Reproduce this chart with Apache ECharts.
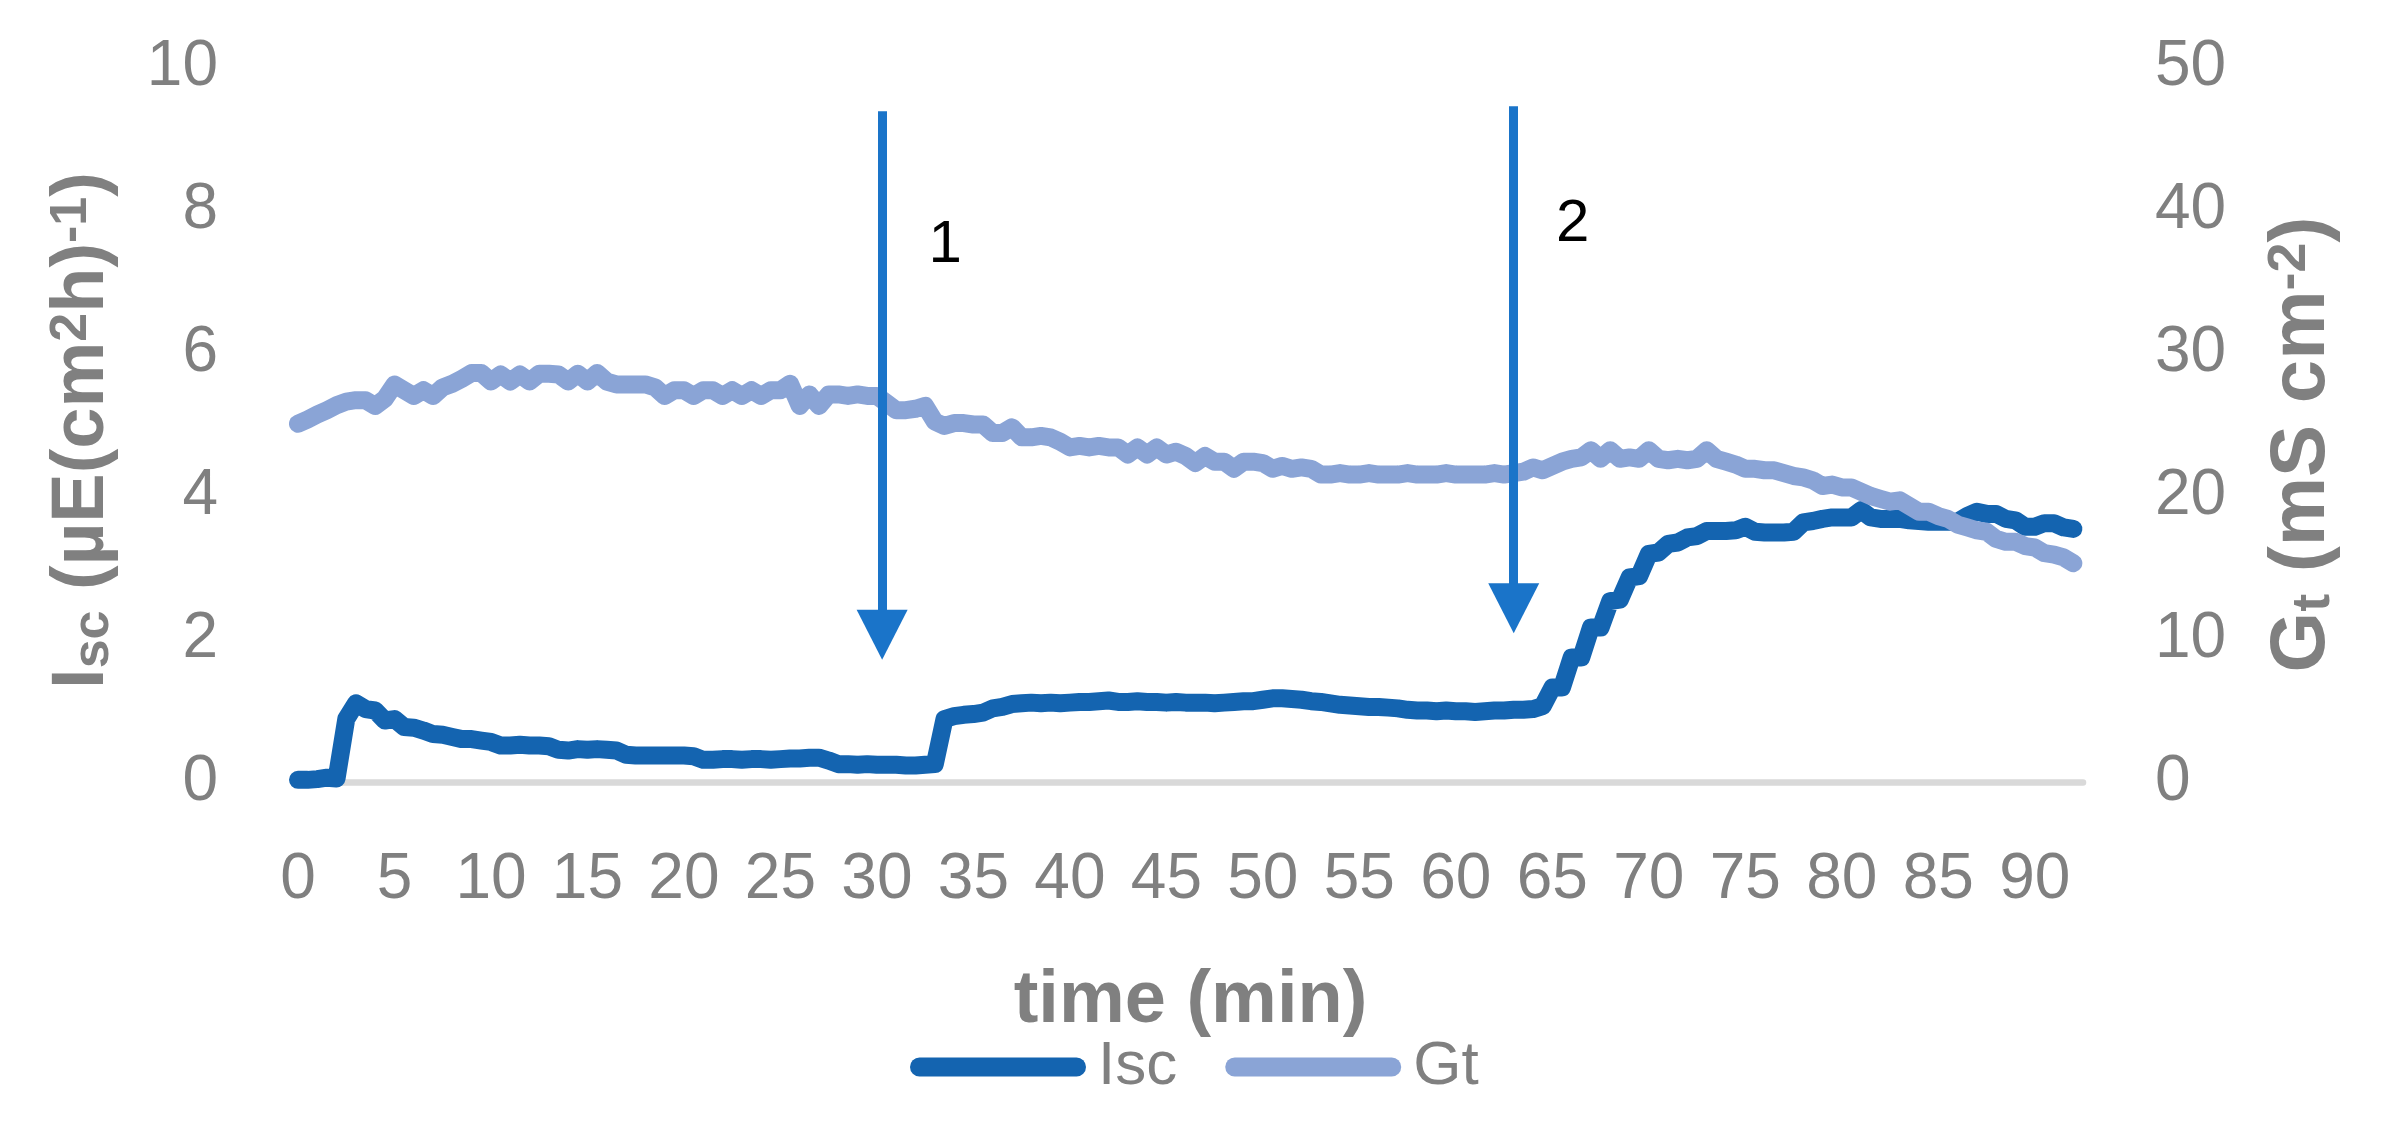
<!DOCTYPE html>
<html>
<head>
<meta charset="utf-8">
<script src="https://cdn.jsdelivr.net/npm/echarts@6/dist/echarts.min.js"></script>
<style>
html,body{margin:0;padding:0;background:#fff;}
#c{width:2386px;height:1122px;}
</style>
</head>
<body>
<div id="c"></div>
<script>
// sampling step of the recording (minutes)
const STEP = 0.5;

// Isc, µE(cm²h)⁻¹, one value every 0.5 min from 0 to 92 min
const isc = [
  0.03,0.03,0.04,0.06,0.05,0.88,1.10,1.02,1.00,0.86,
  0.88,0.77,0.76,0.72,0.67,0.66,0.63,0.60,0.60,0.58,
  0.56,0.51,0.51,0.52,0.51,0.51,0.50,0.45,0.44,0.46,
  0.45,0.46,0.45,0.44,0.38,0.37,0.37,0.37,0.37,0.37,
  0.37,0.36,0.31,0.31,0.32,0.32,0.31,0.32,0.32,0.31,
  0.32,0.33,0.33,0.34,0.34,0.30,0.25,0.25,0.24,0.25,
  0.24,0.24,0.24,0.23,0.23,0.24,0.25,0.88,0.92,0.94,
  0.95,0.97,1.03,1.05,1.09,1.10,1.11,1.10,1.11,1.10,
  1.11,1.12,1.12,1.13,1.14,1.12,1.12,1.13,1.12,1.12,
  1.11,1.12,1.11,1.11,1.11,1.10,1.11,1.12,1.13,1.13,
  1.15,1.17,1.17,1.16,1.15,1.13,1.12,1.10,1.08,1.07,
  1.06,1.05,1.05,1.04,1.03,1.01,1.00,1.00,0.99,1.00,
  0.99,0.99,0.98,0.99,1.00,1.00,1.01,1.01,1.02,1.06,
  1.32,1.32,1.74,1.74,2.16,2.16,2.53,2.55,2.86,2.88,
  3.19,3.21,3.33,3.35,3.42,3.44,3.51,3.51,3.51,3.52,
  3.57,3.50,3.49,3.49,3.49,3.50,3.63,3.65,3.68,3.70,
  3.70,3.70,3.80,3.70,3.68,3.68,3.68,3.66,3.65,3.64,
  3.64,3.64,3.64,3.72,3.78,3.75,3.75,3.68,3.66,3.57,
  3.57,3.62,3.62,3.56,3.54
];

// Gt, mS cm⁻², same time base
const gt = [
  25.05,25.35,25.7,26.0,26.35,26.6,26.7,26.7,26.3,26.8,
  27.8,27.4,27.0,27.4,27.0,27.6,27.85,28.2,28.6,28.6,
  28.0,28.5,28.0,28.5,28.0,28.55,28.55,28.5,28.0,28.55,
  28.0,28.6,28.0,27.8,27.8,27.8,27.8,27.6,27.0,27.4,
  27.4,27.0,27.4,27.4,27.0,27.4,27.0,27.4,27.0,27.4,
  27.4,27.85,26.3,27.1,26.3,27.1,27.1,27.0,27.1,27.0,
  27.0,26.5,26.0,26.0,26.1,26.3,25.2,24.9,25.1,25.1,
  25.0,25.0,24.4,24.4,24.8,24.1,24.1,24.2,24.1,23.8,
  23.4,23.5,23.4,23.5,23.4,23.4,22.9,23.4,22.9,23.4,
  22.9,23.1,22.8,22.3,22.8,22.4,22.4,21.9,22.4,22.4,
  22.3,21.9,22.1,21.9,22.0,21.9,21.5,21.5,21.6,21.5,
  21.5,21.6,21.5,21.5,21.5,21.6,21.5,21.5,21.5,21.6,
  21.5,21.5,21.5,21.5,21.6,21.5,21.6,21.7,22.0,21.8,
  22.1,22.4,22.6,22.7,23.2,22.6,23.2,22.6,22.7,22.6,
  23.2,22.6,22.5,22.6,22.5,22.6,23.2,22.6,22.4,22.2,
  21.9,21.9,21.8,21.8,21.6,21.4,21.3,21.1,20.7,20.8,
  20.6,20.6,20.3,20.0,19.8,19.6,19.7,19.3,18.9,18.9,
  18.6,18.4,18.0,17.8,17.6,17.5,17.0,16.8,16.8,16.5,
  16.4,16.0,15.9,15.7,15.3
];

const seriesNames = ['Isc', 'Gt'];

// arrows marking additions (time in min, Isc-axis units)
const arrowTimes = [30.27, 63.0];
const arrowTops = [9.38, 9.45];
const arrowEnds = [2.06, 2.43];
const arrowLabels = ['1', '2'];
const arrowLabelPos = [[33.54, 7.50], [66.06, 7.80]];

const FONT = '"Liberation Sans", Arial, sans-serif';
const GRAY = '#808080';
const C_ISC = '#1464b0';
const C_GT = '#8aa4d6';
const C_ARROW = '#1a74c9';

const iscData = isc.map((v, i) => [i * STEP, v]);
const gtData = gt.map((v, i) => [i * STEP, v]);

function makeRich(main, small) {
  return {
    b:   {fontSize: main, fontWeight: 'bold', color: GRAY, fontFamily: FONT, lineHeight: main},
    sub: {fontSize: small, fontWeight: 'bold', color: GRAY, fontFamily: FONT, lineHeight: 14, verticalAlign: 'bottom'},
    sup: {fontSize: small, fontWeight: 'bold', color: GRAY, fontFamily: FONT, lineHeight: Math.round(small * 0.88), verticalAlign: 'top'}
  };
}

const tickLabel = {fontSize: 64, color: GRAY, fontFamily: FONT};

const chart = echarts.init(document.getElementById('c'), null, {renderer: 'canvas'});
chart.setOption({
  animation: false,
  backgroundColor: '#ffffff',
  grid: {left: 298, right: 303, top: 67, bottom: 340, containLabel: false, outerBoundsMode: 'none'},
  xAxis: {
    type: 'value', min: 0, max: 92.5, interval: 5,
    name: 'time (min)', nameLocation: 'middle', nameGap: 183, nameMoveOverlap: false,
    nameTextStyle: {fontSize: 74, fontWeight: 'bold', color: GRAY, fontFamily: FONT},
    axisLine: {show: true, onZero: false, lineStyle: {color: '#d9d9d9', width: 6.5}},
    axisTick: {show: false},
    splitLine: {show: false},
    axisLabel: Object.assign({margin: 66, showMaxLabel: false, showMinLabel: true}, tickLabel)
  },
  yAxis: [
    {
      type: 'value', min: 0, max: 10, interval: 2, position: 'left',
      name: '{b|I}{sub|sc}{b| (µE(cm}{sup|2}{b|h)}{sup|-1}{b|)}',
      nameLocation: 'middle', nameRotate: 90, nameGap: 178, nameMoveOverlap: false,
      nameTextStyle: {rich: makeRich(74, 52), color: GRAY, fontSize: 74, fontWeight: 'bold', fontFamily: FONT, padding: [0, 12, 0, 0]},
      axisLine: {show: false}, axisTick: {show: false}, splitLine: {show: false},
      axisLabel: Object.assign({margin: 80}, tickLabel)
    },
    {
      type: 'value', min: 0, max: 50, interval: 10, position: 'right',
      name: '{b|G}{sub|t}{b| (mS cm}{sup|-2}{b|)}',
      nameLocation: 'middle', nameRotate: 90, nameGap: 180, nameMoveOverlap: false,
      nameTextStyle: {rich: makeRich(78, 54), color: GRAY, fontSize: 78, fontWeight: 'bold', fontFamily: FONT, padding: [0, 40, 0, 0]},
      axisLine: {show: false}, axisTick: {show: false}, splitLine: {show: false},
      axisLabel: Object.assign({margin: 72}, tickLabel)
    }
  ],
  legend: {
    left: 910, top: 1036, padding: 0,
    itemWidth: 176, itemHeight: 19, itemGap: 48,
    icon: 'path://M9.5,0 L166.5,0 A9.5,9.5 0 0 1 166.5,19 L9.5,19 A9.5,9.5 0 0 1 9.5,0 Z',
    selectedMode: false,
    textStyle: {fontSize: 62, color: GRAY, fontFamily: FONT, padding: [0, 0, 0, 7]},
    data: seriesNames
  },
  series: [
    {
      name: seriesNames[0], type: 'line', yAxisIndex: 0, data: iscData,
      showSymbol: false, symbol: 'none', color: C_ISC, z: 2,
      itemStyle: {color: C_ISC},
      lineStyle: {width: 18, color: C_ISC, cap: 'round', join: 'round'},
      markLine: {
        silent: true, animation: false,
        symbol: ['none', 'triangle'],
        lineStyle: {color: C_ARROW, width: 9, type: 'solid'},
        label: {show: false},
        emphasis: {disabled: true},
        data: arrowTimes.map((t, i) => [
          {coord: [t, arrowTops[i]], symbol: 'none'},
          {coord: [t, arrowEnds[i]], symbol: 'triangle', symbolSize: [51, 50]}
        ])
      },
      markPoint: {
        silent: true, animation: false,
        symbol: 'rect', symbolSize: 1,
        itemStyle: {color: 'rgba(0,0,0,0)'},
        label: {show: true, position: 'inside', color: '#000000', fontSize: 60, fontFamily: FONT, formatter: p => p.name},
        data: arrowLabels.map((lab, i) => ({name: lab, coord: arrowLabelPos[i]}))
      }
    },
    {
      name: seriesNames[1], type: 'line', yAxisIndex: 1, data: gtData,
      showSymbol: false, symbol: 'none', color: C_GT, z: 3,
      itemStyle: {color: C_GT},
      lineStyle: {width: 18, color: C_GT, cap: 'round', join: 'round'}
    }
  ]
});
</script>
</body>
</html>
